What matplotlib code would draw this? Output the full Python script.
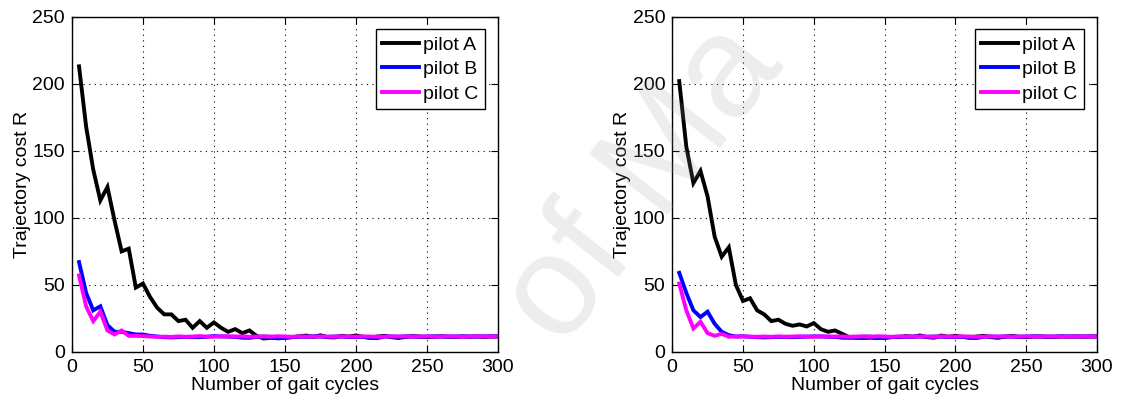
import matplotlib
matplotlib.use("Agg")
import matplotlib.pyplot as plt

plt.rcParams['font.family'] = ['Liberation Sans', 'DejaVu Sans']

# gait cycles, sampled every 5
cycles = list(range(5, 305, 5))

# left panel
left_a = [213, 168, 136, 113, 123, 98, 75, 77, 48, 51,
          41, 33, 28, 28, 23, 24, 18, 23, 18, 22,
          18, 15, 17, 14, 16, 12, 10, 10.5, 10.2, 10.8,
          11.0, 11.6, 12.2, 11.2, 12.4, 11.0, 10.8, 12.0, 11.4, 12.3,
          11.2, 10.6, 11.5, 12.0, 11.0, 10.4, 11.2, 11.8, 11.5, 11.0,
          11.3, 11.7, 11.4, 11.2, 11.5, 11.3, 11.6, 11.2, 11.5, 11.6]
left_b = [67, 44, 31, 34, 20, 15, 15, 14, 13, 13,
          12, 11.5, 11, 10.8, 11, 11.2, 11, 11, 11.3, 11.8,
          11.5, 11.4, 11.2, 10.6, 10.5, 11.2, 11.4, 11.3, 10.2, 10.4,
          11, 11.4, 11.2, 11.6, 11.4, 11.2, 11.5, 11.4, 11.2, 11,
          11.3, 10.4, 10.3, 11.4, 11.5, 11.3, 11.6, 11.4, 11.2, 11.5,
          11.6, 11.4, 11.3, 11.5, 11.6, 11.5, 11.4, 11.6, 11.5, 11.5]
left_c = [57, 34, 23, 30, 16, 13, 16, 12, 12, 11.8,
          11.5, 11.2, 11.4, 11.2, 11.6, 11.3, 11.5, 11.8, 11.4, 11.3,
          11.7, 11.6, 11.5, 11.6, 11.3, 11.5, 11.6, 11.4, 11.7, 11.5,
          11.3, 11.6, 11.5, 11.4, 11.6, 11.5, 11.3, 11.6, 11.5, 11.4,
          11.6, 11.5, 11.3, 11.4, 11.6, 11.5, 11.6, 11.4, 11.5, 11.6,
          11.4, 11.5, 11.6, 11.5, 11.4, 11.5, 11.6, 11.5, 11.5, 11.6]

# right panel
right_a = [202, 153, 126, 135, 116, 86, 71, 78, 50, 38,
           40, 31, 28, 23, 24, 21, 19.5, 20.5, 19, 21.5,
           17, 15, 16, 13.5, 11, 10.5, 10.4, 10.6, 10.3, 10.8,
           11.2, 11.0, 11.8, 11.2, 12.3, 11.0, 10.6, 12.2, 11.3, 12.0,
           11.2, 10.8, 11.5, 12.0, 11.0, 10.5, 11.4, 11.9, 11.3, 11.0,
           11.4, 11.6, 11.3, 11.2, 11.5, 11.4, 11.6, 11.3, 11.5, 11.6]
right_b = [59, 44, 31, 26, 30, 21, 15, 12.5, 11.5, 11.6,
           11.3, 11.0, 10.8, 11.0, 11.2, 11.1, 11.0, 11.2, 11.4, 11.6,
           11.5, 11.3, 11.2, 10.6, 10.5, 11.0, 11.3, 11.4, 10.4, 10.3,
           11.0, 11.3, 11.2, 11.5, 11.4, 11.2, 11.5, 11.3, 11.2, 11.0,
           11.3, 10.5, 10.4, 11.3, 11.5, 11.3, 11.5, 11.4, 11.2, 11.5,
           11.6, 11.4, 11.3, 11.5, 11.6, 11.5, 11.4, 11.6, 11.5, 11.5]
right_c = [51, 31, 17.5, 22.5, 14, 12, 13.5, 11.3, 11.5, 11.6,
           11.4, 11.3, 11.5, 11.3, 11.6, 11.4, 11.5, 11.7, 11.4, 11.3,
           11.6, 11.5, 11.5, 11.6, 11.3, 11.5, 11.6, 11.4, 11.7, 11.5,
           11.3, 11.6, 11.5, 11.4, 11.6, 11.5, 11.3, 11.6, 11.5, 11.4,
           11.6, 11.5, 11.3, 11.4, 11.6, 11.5, 11.6, 11.4, 11.5, 11.6,
           11.4, 11.5, 11.6, 11.5, 11.4, 11.5, 11.6, 11.5, 11.5, 11.6]

labels = ['pilot A', 'pilot B', 'pilot C']
colors = ['#000000', '#0000ff', '#ff00ff']
xticks = [0, 50, 100, 150, 200, 250, 300]
yticks = [0, 50, 100, 150, 200, 250]

fig = plt.figure(figsize=(11.24, 3.99), dpi=100)
ax1 = fig.add_axes([0.064, 0.118, 0.379, 0.840])
ax2 = fig.add_axes([0.598, 0.118, 0.378, 0.840])

def draw(ax, series):
    for s, c, lab in zip(series, colors, labels):
        ax.plot(cycles, s, color=c, lw=2.8, label=lab, solid_joinstyle='miter')
    ax.set_xlim(0, 300)
    ax.set_ylim(0, 250)
    ax.set_xticks(xticks)
    ax.set_yticks(yticks)
    ax.grid(True, color='black', linestyle=(0, (1, 4)), linewidth=0.8)
    ax.tick_params(direction='in', top=True, right=True, labelsize=14, length=5, pad=5)
    for sp in ax.spines.values():
        sp.set_linewidth(1.0)
    ax.set_xlabel('Number of gait cycles', fontsize=14, labelpad=1)
    ax.set_ylabel('Trajectory cost R', fontsize=14, labelpad=1)
    leg = ax.legend(loc='upper right', fontsize=14, frameon=True, fancybox=False,
                    edgecolor='black', framealpha=1, handlelength=1.9,
                    handletextpad=0.2, labelspacing=0.35, borderpad=0.35,
                    borderaxespad=0.65)
    leg.get_frame().set_linewidth(1.0)

draw(ax1, [left_a, left_b, left_c])
draw(ax2, [right_a, right_b, right_c])

# faint watermark (only the part visible inside the page)
fig.text(562 / 1124, 1 - 350 / 399, 'of Ma', fontsize=104, color='#9a9a9a', alpha=0.18,
         rotation=52, rotation_mode='anchor', ha='left', va='baseline', zorder=10)

fig.savefig('out.png', dpi=100)
